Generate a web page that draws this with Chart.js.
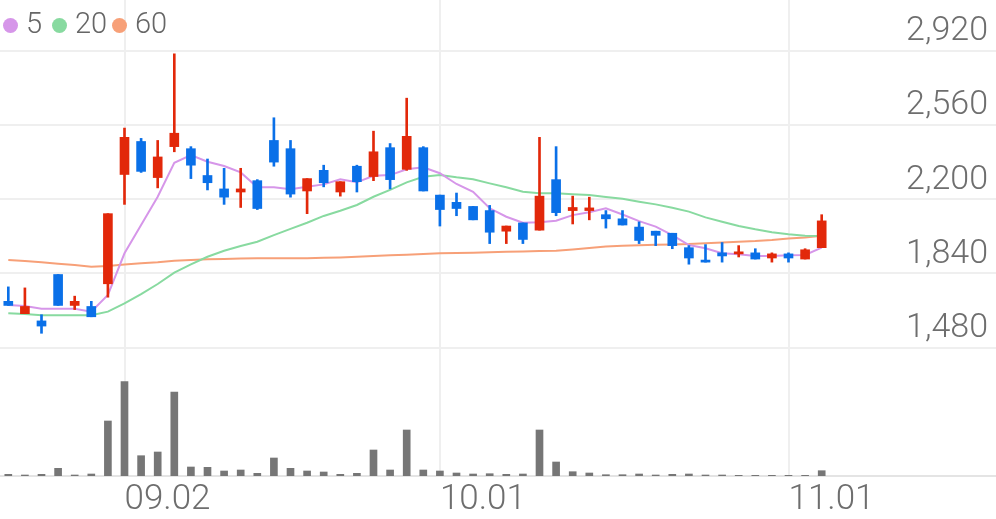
<!DOCTYPE html>
<html lang="ko">
<head>
<meta charset="utf-8">
<title>일봉 차트</title>
<script src="https://cdn.jsdelivr.net/npm/chart.js@4.4.1/dist/chart.umd.min.js"></script>
<style>
    html, body { margin: 0; padding: 0; background: #fff; }
    #wrap { position: relative; width: 996px; height: 519px; overflow: hidden; }
    #priceChart { position: absolute; left: 0; top: 0; }
    .legend { position: absolute; top: 6px; font-family: Roboto, sans-serif; font-weight: 300; font-size: 29px; color: #666; line-height: 35px; }
    .dot { position: absolute; top: 18px; width: 15px; height: 15px; border-radius: 50%; }
</style>
</head>
<body>
<div id="wrap">
    <canvas id="priceChart" width="996" height="519"></canvas>
    <!-- 이동평균 범례 -->
    <span class="dot" style="left:3px;background:#d696e9"></span><span class="legend" style="left:26px">5</span>
    <span class="dot" style="left:52px;background:#88daa0"></span><span class="legend" style="left:75px">20</span>
    <span class="dot" style="left:112px;background:#f7a078"></span><span class="legend" style="left:135px">60</span>
</div>
<script>
// 거래일
const DATES = [
    '08.22', '08.23', '08.26', '08.27', '08.28', '08.29', '08.30',
    '09.02', '09.03', '09.04', '09.05', '09.06', '09.09', '09.10', '09.11', '09.16', '09.17', '09.18', '09.19', '09.20',
    '09.23', '09.24', '09.25', '09.26', '09.27', '09.30',
    '10.01', '10.02', '10.04', '10.07', '10.08', '10.10', '10.11', '10.14', '10.15', '10.16', '10.17', '10.18',
    '10.21', '10.22', '10.23', '10.24', '10.25', '10.28', '10.29', '10.30', '10.31',
    '11.01', '11.04', '11.05'
];
const TICK_DATES = ['09.02', '10.01', '11.01'];
const PRICE_TICKS = [1480, 1840, 2200, 2560, 2920];

// 시가 / 고가 / 저가 / 종가
const OPEN = [1705, 1645, 1610, 1835, 1685, 1680, 1790, 2320, 2480, 2305,
    2455, 2445, 2315, 2250, 2235, 2290, 2485, 2445, 2240, 2340,
    2235, 2360, 2310, 2450, 2345, 2450, 2220, 2185, 2165, 2145,
    2045, 2085, 2050, 2295, 2145, 2145, 2125, 2105, 2065, 2045,
    2035, 1965, 1905, 1940, 1935, 1940, 1915, 1935, 1910, 1965];
const HIGH = [1775, 1770, 1640, 1835, 1730, 1705, 2130, 2545, 2495, 2485,
    2905, 2455, 2395, 2350, 2350, 2295, 2595, 2485, 2300, 2365,
    2285, 2365, 2530, 2470, 2690, 2455, 2220, 2230, 2165, 2170,
    2070, 2085, 2500, 2455, 2215, 2210, 2145, 2145, 2090, 2045,
    2035, 1975, 1980, 1990, 1975, 1960, 1940, 1940, 1960, 2125];
const LOW = [1685, 1645, 1550, 1685, 1665, 1630, 1725, 2175, 2330, 2255,
    2430, 2300, 2245, 2175, 2160, 2150, 2360, 2210, 2130, 2260,
    2215, 2235, 2290, 2250, 2340, 2240, 2070, 2120, 2100, 1985,
    1985, 1985, 2050, 2120, 2080, 2100, 2060, 2075, 1985, 1975,
    1960, 1885, 1895, 1895, 1920, 1910, 1895, 1895, 1910, 1965];
const CLOSE = [1685, 1680, 1585, 1685, 1705, 1630, 2130, 2500, 2335, 2405,
    2520, 2365, 2280, 2210, 2250, 2155, 2380, 2225, 2300, 2280,
    2285, 2285, 2430, 2295, 2505, 2240, 2150, 2155, 2100, 2040,
    2070, 2005, 2215, 2135, 2160, 2158, 2105, 2075, 2000, 2025,
    1975, 1915, 1895, 1925, 1945, 1910, 1935, 1915, 1955, 2095];

// 이동평균선
const MA5 = [1687, 1682, 1669, 1669, 1669, 1655, 1736, 1938, 2075, 2212,
    2377, 2414, 2382, 2361, 2330, 2258, 2258, 2248, 2261, 2272,
    2297, 2282, 2314, 2317, 2345, 2355, 2326, 2274, 2236, 2156,
    2115, 2086, 2088, 2096, 2123, 2137, 2156, 2126, 2094, 2067,
    2026, 1978, 1962, 1938, 1933, 1925, 1925, 1928, 1930, 1965];
const MA20 = [1647, 1643, 1637, 1637, 1637, 1637, 1655, 1695, 1740, 1789,
    1844, 1884, 1921, 1950, 1973, 1994, 2026, 2056, 2086, 2119,
    2144, 2172, 2212, 2245, 2282, 2309, 2317, 2306, 2297, 2277,
    2258, 2236, 2229, 2229, 2224, 2220, 2211, 2202, 2188, 2175,
    2159, 2140, 2112, 2091, 2070, 2054, 2040, 2030, 2023, 2022];
const MA60 = [1905, 1900, 1894, 1887, 1881, 1873, 1876, 1884, 1889, 1894,
    1902, 1905, 1909, 1910, 1912, 1914, 1914, 1914, 1914, 1916,
    1918, 1921, 1925, 1928, 1931, 1934, 1938, 1939, 1941, 1943,
    1945, 1947, 1949, 1950, 1956, 1963, 1971, 1974, 1977, 1979,
    1981, 1983, 1987, 1990, 1994, 1997, 2002, 2009, 2015, 2023];

// 거래량 (천주)
const VOLUME = [17, 10, 17, 77, 10, 20, 550, 943, 203, 240,
    840, 90, 87, 50, 60, 27, 180, 77, 50, 40,
    17, 27, 260, 60, 460, 60, 50, 30, 20, 23,
    17, 20, 460, 140, 43, 30, 13, 13, 20, 10,
    17, 20, 10, 10, 7, 7, 7, 7, 7, 53];

const UP = '#e2280a';
const DOWN = '#0a70e8';
const EMPTY_SLOTS = 10;

const labels = DATES.concat(new Array(EMPTY_SLOTS).fill(''));
const candleColor = (i) => (CLOSE[i] >= OPEN[i] ? UP : DOWN);

const ctx = document.getElementById('priceChart').getContext('2d');
new Chart(ctx, {
    type: 'bar',
    data: {
        labels: labels,
        datasets: [
            {
                label: 'body',
                data: OPEN.map((o, i) => [o, CLOSE[i]]),
                backgroundColor: (c) => candleColor(c.dataIndex),
                barThickness: 9,
                minBarLength: 2,
                grouped: false,
                yAxisID: 'y',
                order: 0
            },
            {
                label: 'wick',
                data: LOW.map((l, i) => [l, HIGH[i]]),
                backgroundColor: (c) => candleColor(c.dataIndex),
                barThickness: 2,
                grouped: false,
                yAxisID: 'y',
                order: 1
            },
            {
                type: 'line', label: '5', data: MA5,
                borderColor: '#d696e9', borderWidth: 2, pointRadius: 0,
                yAxisID: 'y', order: 2
            },
            {
                type: 'line', label: '20', data: MA20,
                borderColor: '#88daa0', borderWidth: 2, pointRadius: 0,
                yAxisID: 'y', order: 3
            },
            {
                type: 'line', label: '60', data: MA60,
                borderColor: '#f7a078', borderWidth: 2, pointRadius: 0,
                yAxisID: 'y', order: 4
            },
            {
                label: 'volume',
                data: VOLUME,
                backgroundColor: '#767676',
                barThickness: 7,
                grouped: false,
                yAxisID: 'yv',
                order: 5
            }
        ]
    },
    options: {
        responsive: false,
        animation: false,
        layout: { padding: 0 },
        plugins: {
            legend: { display: false },
            tooltip: { enabled: false }
        },
        scales: {
            x: {
                offset: true,
                grid: {
                    offset: false,
                    drawTicks: false,
                    lineWidth: 2,
                    color: (c) => (c.tick && TICK_DATES.includes(labels[c.index]) ? '#efefef' : 'transparent')
                },
                border: { display: true, color: '#e4e4e4', width: 2 },
                ticks: {
                    autoSkip: false,
                    maxRotation: 0,
                    align: 'start',
                    padding: 3,
                    color: '#6e6e6e',
                    font: { family: 'Roboto, sans-serif', size: 35, weight: '300' },
                    callback: (v, i) => (TICK_DATES.includes(labels[i]) ? labels[i] : '')
                },
                afterFit: (scale) => {
                    scale.height = 43;
                    scale.paddingLeft = 0;
                    scale.paddingRight = 0;
                }
            },
            y: {
                position: 'right',
                min: 858,
                max: 3166,
                afterBuildTicks: (scale) => { scale.ticks = PRICE_TICKS.map(v => ({ value: v })); },
                afterFit: (scale) => {
                    scale.width = 0;
                    scale.paddingTop = 0;
                    scale.paddingBottom = 0;
                },
                grid: { color: '#efefef', lineWidth: 2, drawTicks: false },
                border: { display: false },
                ticks: {
                    mirror: true,
                    padding: -8,
                    labelOffset: -19,
                    color: '#6e6e6e',
                    font: { family: 'Roboto, sans-serif', size: 34, weight: '300' },
                    callback: (v) => v.toLocaleString('en-US')
                }
            },
            yv: {
                display: false,
                min: 0,
                max: 4760
            }
        }
    }
});
</script>
</body>
</html>
